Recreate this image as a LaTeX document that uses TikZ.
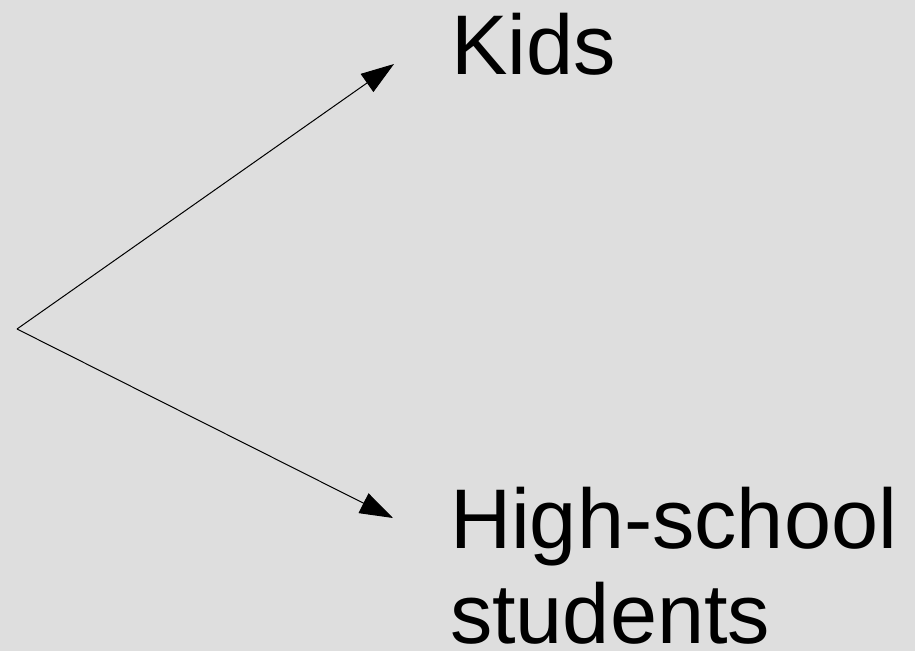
\documentclass[tikz,border=0pt]{standalone}
\usepackage{fontspec}
\setmainfont{Liberation Sans}
\usetikzlibrary{arrows.meta}
\definecolor{bg}{RGB}{222,222,222}
\tikzset{
  lbl/.style={inner sep=0pt, outer sep=0pt, anchor=base west, align=left,
    font=\fontsize{63.5pt}{71.25pt}\selectfont},
  conn/.style={line width=0.75pt, -{Triangle[length=24.75pt,width=16.5pt]}}
}
\begin{document}
\begin{tikzpicture}[x=0.75pt,y=-0.75pt]
\fill[bg] (0,0) rectangle (915,651);
\useasboundingbox (0,0) rectangle (915,651);
\node[lbl] (kids) at (451,74) {Kids};
\node[lbl] (hs) at (450,643) {High-school\\students};
\coordinate (o) at (17,329);
\coordinate (t1) at (394,64);
\coordinate (t2) at (393,518);
\draw[conn] (o) -- (t1);
\draw[conn] (o) -- (t2);
\end{tikzpicture}
\end{document}
